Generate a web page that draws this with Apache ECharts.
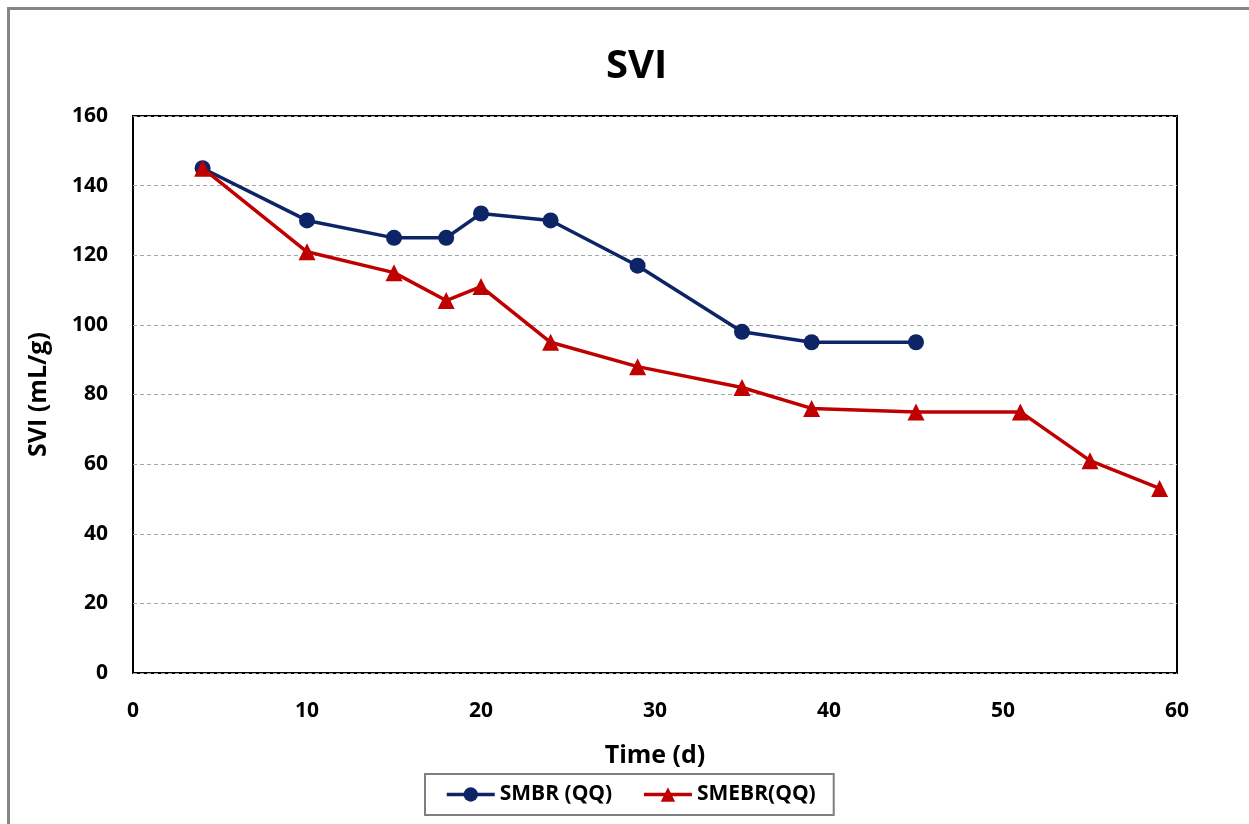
<!DOCTYPE html>
<html><head><meta charset="utf-8">
<script src="https://cdn.jsdelivr.net/npm/echarts@6/dist/echarts.min.js"></script>
<style>
html,body{margin:0;padding:0;background:#fff;overflow:hidden}
#frame{position:absolute;left:7px;top:7px;width:1260px;height:840px;border:3px solid #868686;box-sizing:border-box}
#c{position:absolute;left:0;top:0;width:1249px;height:824px}
</style></head>
<body><div id="frame"></div><div id="c"></div>
<script>
const smbrDays = [4,10,15,18,20,24,29,35,39,45];
const smbrSVI  = [145,130,125,125,132,130,117,98,95,95];
const smebrDays = [4,10,15,18,20,24,29,35,39,45,51,55,59];
const smebrSVI  = [145,121,115,107,111,95,88,82,76,75,75,61,53];
const xTicks = [0,10,20,30,40,50,60];
const yTicks = [0,20,40,60,80,100,120,140,160];

const FONT = '"Open Sans", "Liberation Sans", sans-serif';
const chart = echarts.init(document.getElementById('c'), null, {renderer:'canvas'});
chart.setOption({
  backgroundColor: 'transparent',
  animation: false,
  title: {text:'SVI', left:601, top:42, textStyle:{fontFamily:FONT, fontWeight:'bold', fontSize:40, color:'#000'}},
  grid: {left:133, top:116, width:1044, height:557, show:true, borderColor:'#000', borderWidth:2, backgroundColor:'transparent'},
  xAxis: {type:'value', min:xTicks[0], max:xTicks[xTicks.length-1], interval:10,
    name:'Time (d)', nameLocation:'middle', nameGap:70,
    nameTextStyle:{fontFamily:FONT, fontWeight:'bold', fontSize:25, color:'#000'},
    axisLine:{show:false}, axisTick:{show:false}, splitLine:{show:false},
    axisLabel:{fontFamily:FONT, fontWeight:'bold', fontSize:21, color:'#000', margin:28}},
  yAxis: {type:'value', min:yTicks[0], max:yTicks[yTicks.length-1], interval:20,
    name:'SVI (mL/g)', nameLocation:'middle', nameGap:82, nameRotate:90,
    nameTextStyle:{fontFamily:FONT, fontWeight:'bold', fontSize:25, color:'#000'},
    axisLine:{show:false}, axisTick:{show:false},
    splitLine:{show:true, lineStyle:{color:'#a6a6a6', type:[4,3], width:1}},
    axisLabel:{fontFamily:FONT, fontWeight:'bold', fontSize:21, color:'#000', margin:25}},
  legend: {bottom:9, left:425, itemWidth:48, itemHeight:18, itemGap:30,
    padding:[10,18,10,20], borderColor:'#7f7f7f', borderWidth:2,
    lineStyle:{width:3.5},
    textStyle:{fontFamily:FONT, fontWeight:'bold', fontSize:21, color:'#000'},
    data:['SMBR (QQ)','SMEBR(QQ)']},
  series: [
    {name:'SMBR (QQ)', type:'line', data:smbrDays.map((d,i)=>[d,smbrSVI[i]]),
     symbol:'circle', symbolSize:16, color:'#0d2466',
     lineStyle:{width:3.5, color:'#0d2466'}, itemStyle:{color:'#0d2466'}, z:3},
    {name:'SMEBR(QQ)', type:'line', data:smebrDays.map((d,i)=>[d,smebrSVI[i]]),
     symbol:'triangle', symbolSize:17, color:'#c00000',
     lineStyle:{width:3.5, color:'#c00000'}, itemStyle:{color:'#c00000'}, z:4}
  ]
});
</script></body></html>
